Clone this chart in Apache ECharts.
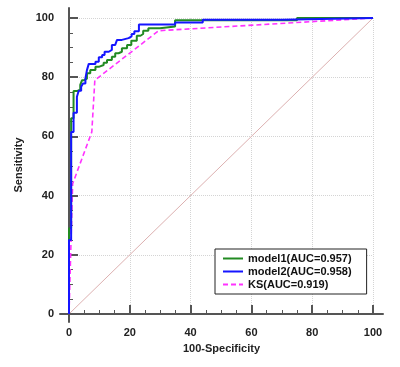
<!DOCTYPE html>
<html><head><meta charset="utf-8">
<script src="https://cdn.jsdelivr.net/npm/echarts@6/dist/echarts.min.js"></script>
<style>html,body{margin:0;padding:0;background:#fff}#c{width:400px;height:367px}</style>
</head><body><div id="c"></div>
<script>
const xTicks = [0, 20, 40, 60, 80, 100];
const yTicks = [0, 20, 40, 60, 80, 100];
const seriesNames = ['model1(AUC=0.957)', 'model2(AUC=0.958)', 'KS(AUC=0.919)'];
const model1X = [0, 0, 0.7, 1.5, 2.6, 3.7, 4.3, 5.0, 5.9, 7.0, 8.7, 9.8, 11.4, 12.5, 14.1, 15.2, 16.3, 17.4, 19.1, 20.5, 22.3, 23.5, 24.4, 26.1, 29.9, 34.9, 75, 100];
const model1Y = [0, 29, 66.1, 75.3, 75.8, 77.4, 79, 79.5, 81.3, 82.4, 83.5, 84.1, 84.9, 85.8, 86.9, 88.1, 88.6, 89.8, 90.9, 92.3, 94.0, 94.6, 95.7, 96.5, 97.1, 99.2, 100, 100];
const model2X = [0, 0, 0.7, 1.5, 2.6, 3.2, 4.0, 4.6, 5.4, 5.9, 6.5, 8.7, 9.8, 10.9, 11.7, 13.1, 14.1, 15.2, 15.8, 17.4, 19.6, 20.6, 21.5, 23.0, 34.9, 44, 70, 100];
const model2Y = [0, 25, 61.5, 68, 73.4, 75.4, 76.8, 77.9, 79.6, 82.4, 84.5, 85.2, 86.7, 87.5, 88.6, 89.2, 90.9, 91.4, 92.6, 93.2, 93.8, 94.6, 95.5, 97.8, 98.5, 99.4, 100, 100];
const ksX = [0, 1.2, 7.5, 8.5, 29.5, 100];
const ksY = [0, 44, 61.5, 79, 95.7, 100];
const refX = [0, 100];
const refY = [0, 100];

const zip = (xs, ys) => xs.map((x, i) => [x, ys[i]]);
const lab = {color: '#222', fontWeight: 'bold', fontSize: 11, fontFamily: 'Liberation Sans, Arial, sans-serif'};

// geometry: inner plot grid and the outer (offset) axis-line frame
const G0 = {left: 69, right: 27, top: 18, bottom: 53};
const G1 = {left: 60, right: 17, top: 8, bottom: 45};
const W = 400, H = 367;
const pxX = (W - G0.left - G0.right) / 100, pxY = (H - G0.top - G0.bottom) / 100;
const x1min = -(G0.left - G1.left) / pxX, x1max = 100 + (G0.right - G1.right) / pxX;
const y1min = -(G0.bottom - G1.bottom) / pxY, y1max = 100 + (G0.top - G1.top) / pxY;
const xMinor = [], yMinor = [];
for (let v = 0; v <= 100; v += 5) { xMinor.push(v); yMinor.push(v); }

const axisCol = '#555';
const chart = echarts.init(document.getElementById('c'), null, {renderer: 'canvas'});
chart.setOption({
  animation: false,
  backgroundColor: '#fff',
  grid: [G0, G1],
  xAxis: [
    {gridIndex: 0, type: 'value', min: xTicks[0], max: xTicks[xTicks.length - 1], interval: 20,
     axisLine: {show: false}, axisTick: {show: false}, axisLabel: {show: false},
     splitLine: {show: true, lineStyle: {color: '#d4d4d4', type: 'dotted', width: 1}}},
    {gridIndex: 1, type: 'value', position: 'bottom', min: x1min, max: x1max,
     name: '100-Specificity', nameLocation: 'middle', nameGap: 21.5, nameMoveOverlap: false,
     nameTextStyle: lab,
     axisLine: {show: true, lineStyle: {color: axisCol, width: 2}},
     axisTick: {show: true, inside: true, length: 9, customValues: xTicks, lineStyle: {color: axisCol, width: 2}},
     axisLabel: Object.assign({margin: 5, customValues: xTicks}, lab),
     splitLine: {show: false}},
    {gridIndex: 1, type: 'value', position: 'bottom', min: x1min, max: x1max,
     axisLine: {show: false},
     axisTick: {show: true, inside: true, length: 4, customValues: xMinor, lineStyle: {color: axisCol, width: 1}},
     axisLabel: {show: false}, splitLine: {show: false}}
  ],
  yAxis: [
    {gridIndex: 0, type: 'value', min: yTicks[0], max: yTicks[yTicks.length - 1], interval: 20,
     axisLine: {show: false}, axisTick: {show: false}, axisLabel: {show: false},
     splitLine: {show: true, lineStyle: {color: '#d4d4d4', type: 'dotted', width: 1}}},
    {gridIndex: 1, type: 'value', position: 'left', min: y1min, max: y1max,
     name: 'Sensitivity', nameLocation: 'middle', nameGap: 35.5, nameRotate: 90, nameMoveOverlap: false,
     nameTextStyle: lab,
     axisLine: {show: true, lineStyle: {color: axisCol, width: 2}},
     axisTick: {show: true, inside: true, length: 9, customValues: yTicks, lineStyle: {color: axisCol, width: 2}},
     axisLabel: Object.assign({margin: 6, customValues: yTicks}, lab),
     splitLine: {show: false}},
    {gridIndex: 1, type: 'value', position: 'left', min: y1min, max: y1max,
     axisLine: {show: false},
     axisTick: {show: true, inside: true, length: 4, customValues: yMinor, lineStyle: {color: axisCol, width: 1}},
     axisLabel: {show: false}, splitLine: {show: false}}
  ],
  legend: {
    data: seriesNames,
    orient: 'vertical', left: 215, top: 249,
    padding: [4, 15, 4, 7], itemGap: 2, itemWidth: 20, itemHeight: 10,
    backgroundColor: '#fff', borderColor: '#222', borderWidth: 1,
    itemStyle: {opacity: 0},
    textStyle: Object.assign({}, lab, {color: '#111'})
  },
  series: [
    {type: 'line', name: 'ref', xAxisIndex: 0, yAxisIndex: 0, data: zip(refX, refY), symbol: 'none', silent: true,
     lineStyle: {color: '#dcb0b0', width: 1}, z: 1},
    {type: 'line', name: seriesNames[2], xAxisIndex: 0, yAxisIndex: 0, data: zip(ksX, ksY), symbol: 'none',
     lineStyle: {color: '#ff33ff', width: 1.6, type: [5, 3]}, itemStyle: {color: '#ff33ff'}, z: 2},
    {type: 'line', name: seriesNames[0], xAxisIndex: 0, yAxisIndex: 0, data: zip(model1X, model1Y), symbol: 'none', step: 'end',
     lineStyle: {color: '#228b22', width: 2}, itemStyle: {color: '#228b22'}, z: 3},
    {type: 'line', name: seriesNames[1], xAxisIndex: 0, yAxisIndex: 0, data: zip(model2X, model2Y), symbol: 'none', step: 'end',
     lineStyle: {color: '#1515ff', width: 2}, itemStyle: {color: '#1515ff'}, z: 4}
  ]
});
</script></body></html>
